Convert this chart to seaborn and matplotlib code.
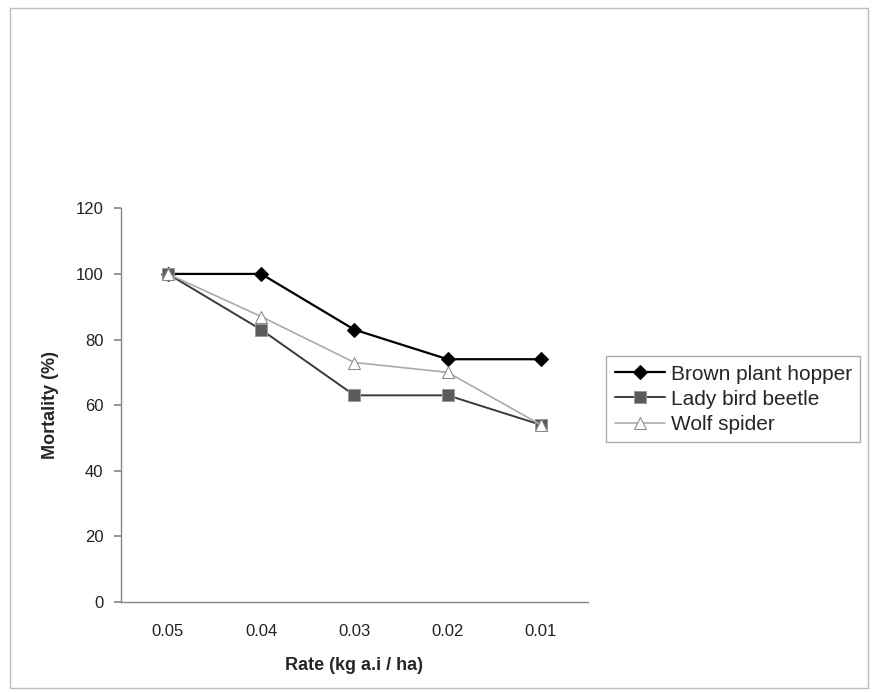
import matplotlib.pyplot as plt
import seaborn as sns
import pandas as pd

# Dados
rates = ["0.05", "0.04", "0.03", "0.02", "0.01"]
brown_plant_hopper = [100, 100, 83, 74, 74]
lady_bird_beetle = [100, 83, 63, 63, 54]
wolf_spider = [100, 87, 73, 70, 54]
y_ticks = [0, 20, 40, 60, 80, 100, 120]

series = {
    "Brown plant hopper": brown_plant_hopper,
    "Lady bird beetle": lady_bird_beetle,
    "Wolf spider": wolf_spider,
}
df = pd.concat(
    [pd.DataFrame({"rate": rates, "mortality": v, "species": k}) for k, v in series.items()],
    ignore_index=True,
)
df["pos"] = df["rate"].map({r: i for i, r in enumerate(rates)})

sns.set_theme(style="white")
plt.rcParams["font.family"] = ["Liberation Sans", "DejaVu Sans"]

fig = plt.figure(figsize=(8.73, 6.92), dpi=100)
ax = fig.add_axes([0.139, 0.130, 0.534, 0.569])

styles = {
    "Brown plant hopper": dict(color="black", marker="D", markersize=7,
                               markerfacecolor="black", markeredgecolor="black", linewidth=1.6),
    "Lady bird beetle": dict(color="#3a3a3a", marker="s", markersize=8,
                             markerfacecolor="#5a5a5a", markeredgecolor="#9a9a9a", linewidth=1.4),
    "Wolf spider": dict(color="#aaaaaa", marker="^", markersize=9,
                        markerfacecolor="white", markeredgecolor="#8a8a8a", linewidth=1.2),
}
for name in series:
    sub = df[df["species"] == name]
    sns.lineplot(data=sub, x="pos", y="mortality", ax=ax, label=name, **styles[name])

ax.set_xlim(-0.5, len(rates) - 0.5)
ax.set_ylim(0, 120)
ax.set_xticks(range(len(rates)))
ax.set_xticklabels(rates)
ax.set_yticks(y_ticks)

ax.set_xlabel("Rate (kg a.i / ha)", fontsize=13, weight="bold", labelpad=13)
ax.set_ylabel("Mortality (%)", fontsize=13, weight="bold", labelpad=12)

for s in ["top", "right"]:
    ax.spines[s].set_visible(False)
for s in ["left", "bottom"]:
    ax.spines[s].set_color("#888888")
    ax.spines[s].set_linewidth(1.0)

ax.tick_params(axis="y", which="major", left=True, length=5, color="#888888",
               labelsize=12, labelcolor="#222222", pad=8)
ax.tick_params(axis="x", which="major", bottom=False, labelsize=12,
               labelcolor="#222222", pad=10)

leg = ax.legend(loc="center left", bbox_to_anchor=(1.04, 0.515), frameon=True,
                fancybox=False, fontsize=15, borderpad=0.4, labelspacing=0.3,
                handlelength=2.4, handletextpad=0.3, borderaxespad=0.0)
leg.get_frame().set_edgecolor("#999999")
leg.get_frame().set_linewidth(1.0)

# Moldura externa
fig.patches.append(plt.Rectangle((0.012, 0.006), 0.982, 0.982, transform=fig.transFigure,
                                 fill=False, edgecolor="#bbbbbb", linewidth=1.0))

plt.savefig("out.png", dpi=100, facecolor="white")
